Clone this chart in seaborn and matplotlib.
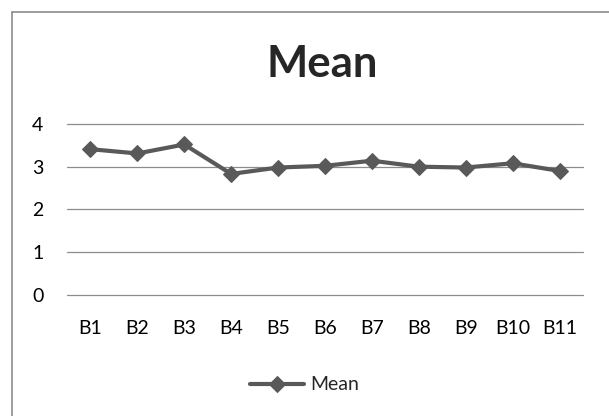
import pandas as pd
import numpy as np
import seaborn as sns
import matplotlib.pyplot as plt
from matplotlib.lines import Line2D

categories = ['B1', 'B2', 'B3', 'B4', 'B5', 'B6', 'B7', 'B8', 'B9', 'B10', 'B11']
mean_vals = [3.41, 3.31, 3.52, 2.83, 2.98, 3.02, 3.14, 3.0, 2.98, 3.08, 2.90]
yticks = [0, 1, 2, 3, 4]

df = pd.DataFrame({'cat': categories, 'Mean': mean_vals})

sns.set_theme(style='white')
plt.rcParams['font.family'] = ['Lato', 'DejaVu Sans']

fig = plt.figure(figsize=(6.09, 4.16), dpi=100)
ax = fig.add_axes([67 / 609, 1 - 294.7 / 416, 516 / 609, (294.7 - 124) / 416])

sns.lineplot(data=df, x='cat', y='Mean', ax=ax, color='#595959', linewidth=3,
             marker='D', markersize=8, markeredgecolor='#595959', label='Mean', sort=False)

ax.set_xlim(-0.5, len(categories) - 0.5)
ax.set_ylim(0, 4)
ax.set_yticks(yticks)
ax.grid(axis='y', color='#8c8c8c', linewidth=0.9)
for gl in ax.get_ygridlines():
    gl.set_clip_on(False)
ax.set_axisbelow(True)
for s in ax.spines.values():
    s.set_visible(False)
ax.tick_params(axis='both', length=0, labelsize=14, colors='black')
ax.tick_params(axis='x', pad=18)
ax.tick_params(axis='y', pad=17)
ax.set_xlabel('')
ax.set_ylabel('')

fig.text(0.5 * (67 + 583) / 609 - 0.005, 1 - 64 / 416, 'Mean', ha='center', va='center',
         fontsize=31.5, fontweight='bold')

ax.legend(loc='center', bbox_to_anchor=(0.46, (294.7 - 385) / (294.7 - 124)), frameon=False,
          fontsize=14, handlelength=2.8, handletextpad=0.3)

# chart border (only top and left visible)
fig.lines.append(Line2D([12 / 609, 1], [1 - 12 / 416, 1 - 12 / 416], transform=fig.transFigure,
                        color='#8c8c8c', linewidth=1.2))
fig.lines.append(Line2D([12 / 609, 12 / 609], [0, 1 - 12 / 416], transform=fig.transFigure,
                        color='#8c8c8c', linewidth=1.2))

fig.savefig('out.png', dpi=100)
